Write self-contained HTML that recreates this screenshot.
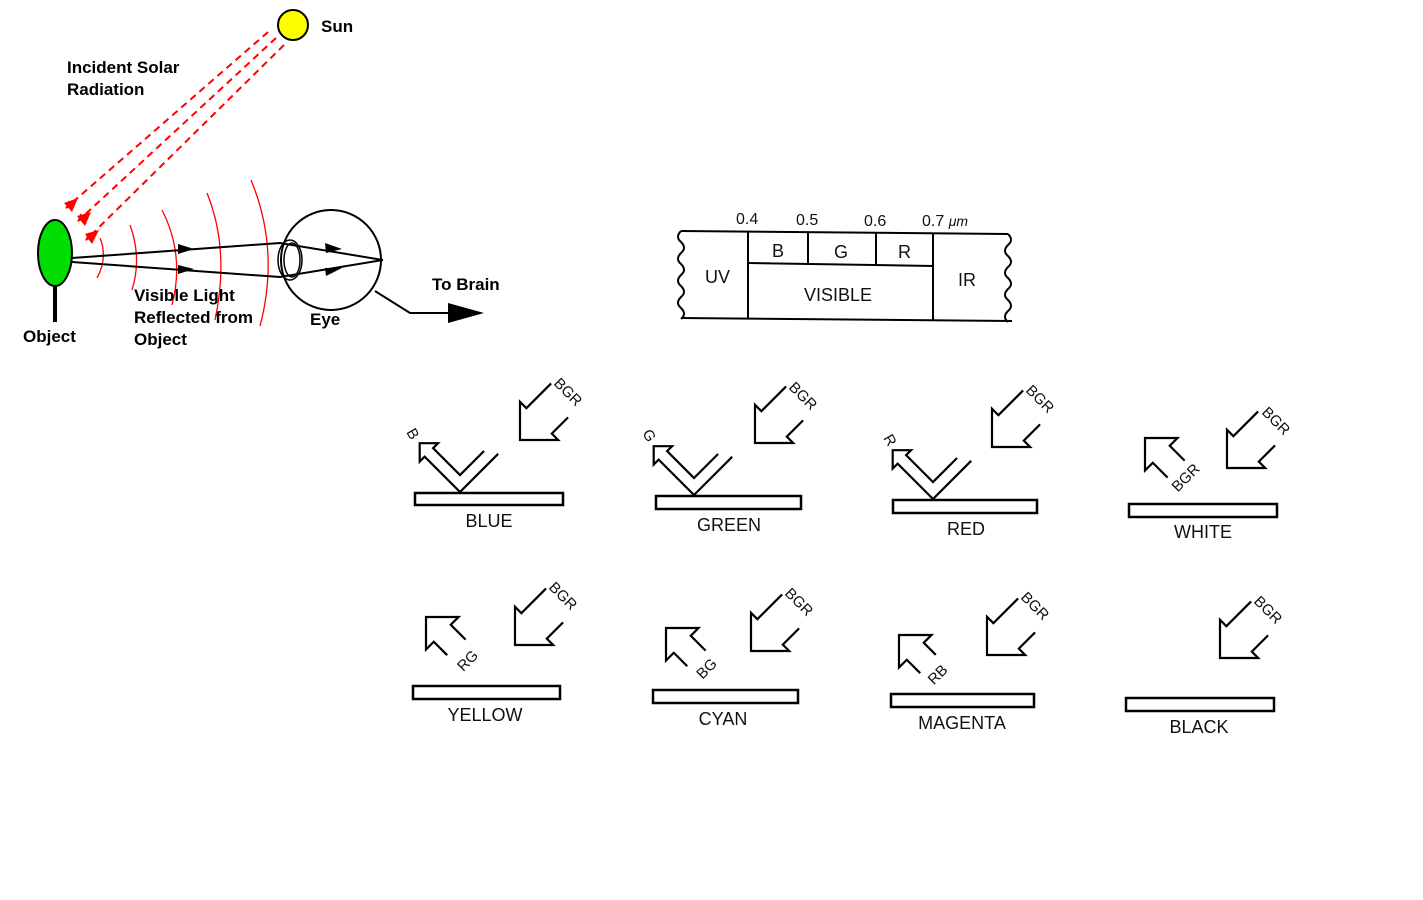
<!DOCTYPE html>
<html><head><meta charset="utf-8"><style>
html,body{margin:0;padding:0;background:#fff;}
svg{display:block;}
.b{font-family:"Liberation Sans",sans-serif;font-weight:bold;font-size:17px;fill:#000;}
.l{font-family:"Liberation Sans",sans-serif;font-size:18px;fill:#111;}
.s{font-family:"Liberation Sans",sans-serif;font-size:15px;fill:#111;}
</style></head><body>
<svg width="1423" height="900" viewBox="0 0 1423 900" xmlns="http://www.w3.org/2000/svg">
<defs>
<marker id="ra" markerWidth="8" markerHeight="8" refX="7" refY="4" orient="auto" markerUnits="userSpaceOnUse" viewBox="0 0 8 8"><path d="M0,0 L8,4 L0,8 z" fill="#f00"/></marker>
</defs>
<!-- Top-left eye diagram -->
<circle cx="293" cy="25" r="15" fill="#ff0" stroke="#000" stroke-width="2"/>
<text class="b" x="321" y="32">Sun</text>
<text class="b" x="67" y="73">Incident Solar</text>
<text class="b" x="67" y="95">Radiation</text>
<g stroke="#f00" stroke-width="2" stroke-dasharray="7,5" fill="none">
<line x1="268" y1="32" x2="66" y2="208" marker-end="url(#ra)"/>
<line x1="276" y1="38" x2="78" y2="221" marker-end="url(#ra)"/>
<line x1="284" y1="45" x2="86" y2="240" marker-end="url(#ra)"/>
</g>
<path d="M64,203 L78,198 L72,212z M77,216 L91,212 L85,226z M85,234 L99,230 L92,244z" fill="#f00"/>
<g stroke="#f00" stroke-width="1.3" fill="none">
<path d="M100,238 Q108,258 97,278"/>
<path d="M130,225 Q142,258 132,290"/>
<path d="M162,210 Q185,255 172,305"/>
<path d="M207,193 Q230,250 215,320"/>
<path d="M251,180 Q280,250 260,326"/>
</g>
<line x1="55" y1="285" x2="55" y2="322" stroke="#000" stroke-width="4"/>
<ellipse cx="55" cy="253" rx="17" ry="33" fill="#0d0" stroke="#000" stroke-width="2"/>
<text class="b" x="23" y="342">Object</text>
<circle cx="331" cy="260" r="50" fill="none" stroke="#000" stroke-width="2"/>
<ellipse cx="292" cy="260" rx="8" ry="17" fill="none" stroke="#000" stroke-width="1.5"/>
<ellipse cx="290" cy="260" rx="12" ry="20" fill="none" stroke="#000" stroke-width="1.5"/>
<g stroke="#000" stroke-width="2" fill="none">
<path d="M72,258 L280,243 L383,260"/>
<path d="M72,262 L280,277 L383,260"/>
<path d="M375,291 L410,313 L455,313"/>
</g>
<path d="M178,244 L194,249 L178,254z M178,265 L194,269 L178,274z M325,243 L342,249 L326,253z M325,268 L342,268 L326,276z" fill="#000"/>
<path d="M448,303 L484,313 L448,323z" fill="#000"/>
<text class="b" x="134" y="301">Visible Light</text>
<text class="b" x="134" y="323">Reflected from</text>
<text class="b" x="134" y="345">Object</text>
<text class="b" x="310" y="325">Eye</text>
<text class="b" x="432" y="290">To Brain</text>

<!-- Spectrum -->
<g stroke="#000" stroke-width="2" fill="none">
<line x1="681" y1="231" x2="1008" y2="234"/>
<line x1="681" y1="318" x2="1012" y2="321"/>
<path d="M681,231 q-6,6 0,11 q6,6 0,11 q-6,6 0,11 q6,6 0,11 q-6,6 0,11 q6,6 0,11 q-6,6 0,11 q6,6 0,11"/>
<path d="M1008,234 q6,6 0,11 q-6,6 0,11 q6,6 0,11 q-6,6 0,11 q6,6 0,11 q-6,6 0,11 q6,6 0,11 q-6,6 0,11"/>
<line x1="748" y1="231" x2="748" y2="318"/>
<line x1="933" y1="233" x2="933" y2="320"/>
<line x1="748" y1="263" x2="933" y2="266"/>
<line x1="808" y1="232" x2="808" y2="264"/>
<line x1="876" y1="233" x2="876" y2="265"/>
</g>
<g class="l" style="font-size:16px">
<text x="736" y="224">0.4</text><text x="796" y="225">0.5</text><text x="864" y="226">0.6</text><text x="922" y="226">0.7 <tspan font-style="italic" font-size="14">μm</tspan></text>
</g>
<text class="l" x="772" y="257">B</text>
<text class="l" x="834" y="258">G</text>
<text class="l" x="898" y="258">R</text>
<text class="l" x="705" y="283">UV</text>
<text class="l" x="804" y="301">VISIBLE</text>
<text class="l" x="958" y="286">IR</text>

<!-- Bars -->
<g fill="#fff" stroke="#000" stroke-width="2.5">
<rect x="415" y="493" width="148" height="12"/>
<rect x="656" y="496" width="145" height="13"/>
<rect x="893" y="500" width="144" height="13"/>
<rect x="1129" y="504" width="148" height="13"/>
<rect x="413" y="686" width="147" height="13"/>
<rect x="653" y="690" width="145" height="13"/>
<rect x="891" y="694" width="143" height="13"/>
<rect x="1126" y="698" width="148" height="13"/>
</g>
<g class="l" text-anchor="middle">
<text x="489" y="527">BLUE</text>
<text x="729" y="531">GREEN</text>
<text x="966" y="535">RED</text>
<text x="1203" y="538">WHITE</text>
<text x="485" y="721">YELLOW</text>
<text x="723" y="725">CYAN</text>
<text x="962" y="729">MAGENTA</text>
<text x="1199" y="733">BLACK</text>
</g>

<!-- Incoming BGR arrows -->
<g fill="none" stroke="#000" stroke-width="2.2">
<path transform="translate(520,440) rotate(-45)" d="M62,-18 L27,-18 L27,-27 L0,0 L27,27 L27,18 L50,18"/>
<path transform="translate(755,443) rotate(-45)" d="M62,-18 L27,-18 L27,-27 L0,0 L27,27 L27,18 L50,18"/>
<path transform="translate(992,447) rotate(-45)" d="M62,-18 L27,-18 L27,-27 L0,0 L27,27 L27,18 L50,18"/>
<path transform="translate(1227,468) rotate(-45)" d="M62,-18 L27,-18 L27,-27 L0,0 L27,27 L27,18 L50,18"/>
<path transform="translate(515,645) rotate(-45)" d="M62,-18 L27,-18 L27,-27 L0,0 L27,27 L27,18 L50,18"/>
<path transform="translate(751,651) rotate(-45)" d="M62,-18 L27,-18 L27,-27 L0,0 L27,27 L27,18 L50,18"/>
<path transform="translate(987,655) rotate(-45)" d="M62,-18 L27,-18 L27,-27 L0,0 L27,27 L27,18 L50,18"/>
<path transform="translate(1220,658) rotate(-45)" d="M62,-18 L27,-18 L27,-27 L0,0 L27,27 L27,18 L50,18"/>
</g>
<g class="s">
<text transform="translate(553,384) rotate(45)">BGR</text>
<text transform="translate(788,388) rotate(45)">BGR</text>
<text transform="translate(1025,391) rotate(45)">BGR</text>
<text transform="translate(1261,413) rotate(45)">BGR</text>
<text transform="translate(548,588) rotate(45)">BGR</text>
<text transform="translate(784,594) rotate(45)">BGR</text>
<text transform="translate(1020,598) rotate(45)">BGR</text>
<text transform="translate(1253,602) rotate(45)">BGR</text>
</g>

<!-- V reflections -->
<g fill="none" stroke="#000" stroke-width="2.2">
<path transform="translate(460,483.5) rotate(45)" d="M6,-48 L6,6 L-44,6 L-44,13 L-57,0 L-44,-13 L-44,-6 L-6,-6 L-6,-40"/>
<path transform="translate(694,486.5) rotate(45)" d="M6,-48 L6,6 L-44,6 L-44,13 L-57,0 L-44,-13 L-44,-6 L-6,-6 L-6,-40"/>
<path transform="translate(933,490.5) rotate(45)" d="M6,-48 L6,6 L-44,6 L-44,13 L-57,0 L-44,-13 L-44,-6 L-6,-6 L-6,-40"/>
</g>
<g class="s">
<text transform="translate(406,432) rotate(60)">B</text>
<text transform="translate(642,433) rotate(60)">G</text>
<text transform="translate(883,438) rotate(60)">R</text>
</g>

<!-- plain reflected arrows -->
<g fill="none" stroke="#000" stroke-width="2.2">
<path transform="translate(1145,438) rotate(45)" d="M44,12 L23,12 L23,23 L0,0 L23,-23 L23,-12 L44,-12"/>
<path transform="translate(426,617) rotate(45)" d="M42,12 L23,12 L23,23 L0,0 L23,-23 L23,-12 L44,-12"/>
<path transform="translate(666,628) rotate(45)" d="M42,12 L23,12 L23,23 L0,0 L23,-23 L23,-12 L44,-12"/>
<path transform="translate(899,635) rotate(45)" d="M42,12 L23,12 L23,23 L0,0 L23,-23 L23,-12 L40,-12"/>
</g>
<g class="s" text-anchor="middle" dominant-baseline="central">
<text transform="translate(1186,478) rotate(-45)">BGR</text>
<text transform="translate(468,661) rotate(-45)">RG</text>
<text transform="translate(707,669) rotate(-45)">BG</text>
<text transform="translate(938,675) rotate(-45)">RB</text>
</g>
</svg>
</body></html>
